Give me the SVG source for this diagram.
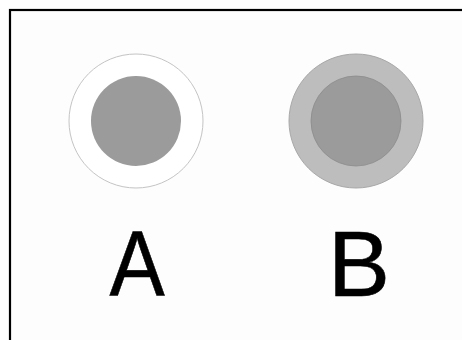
<svg xmlns="http://www.w3.org/2000/svg" width="462" height="340" viewBox="0 0 462 340">
<style>
.lbl{font-family:"Liberation Sans",Arial,sans-serif;font-size:93px;fill:#000;stroke:#000;stroke-width:0.6;text-anchor:middle}
.core{fill:#9b9b9b}
</style>
<rect x="0" y="0" width="462" height="340" fill="#fff"/>
<rect x="10" y="10" width="462" height="340" fill="#fdfdfd" stroke="#000" stroke-width="2.2"/>
<g id="A">
<circle cx="136" cy="121" r="67" fill="#fff" stroke="#c4c4c4" stroke-width="1"/>
<circle class="core" cx="136" cy="121" r="45"/>
<text class="lbl" transform="translate(137,0) scale(0.89,1)" x="0" y="296">A</text>
</g>
<g id="B">
<circle cx="356" cy="121" r="67" fill="#bdbdbd" stroke="#a8a8a8" stroke-width="1"/>
<circle class="core" cx="356" cy="121" r="45" stroke="#8c8c8c" stroke-width="0.8"/>
<text class="lbl" x="359" y="296">B</text>
</g>
</svg>
